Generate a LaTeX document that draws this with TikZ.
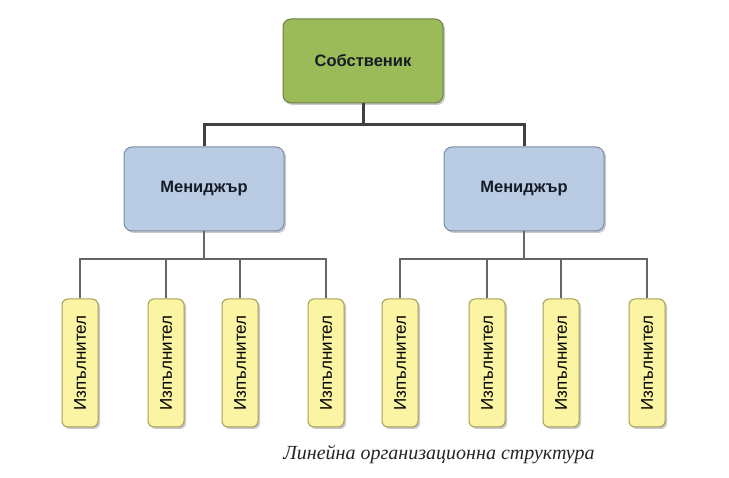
\documentclass[tikz,border=0pt]{standalone}
\usepackage{fontspec}
\setmainfont{Liberation Sans}
\newfontfamily\captionserif{Liberation Serif}
\usetikzlibrary{shadows}
\definecolor{ownerfill}{HTML}{9BBB59}
\definecolor{ownerdraw}{HTML}{6A7F45}
\definecolor{mgrfill}{HTML}{B9CCE4}
\definecolor{mgrdraw}{HTML}{7A8CA6}
\definecolor{workfill}{HTML}{FBF4A2}
\definecolor{workdraw}{HTML}{A89E55}
\definecolor{textdark}{HTML}{161C26}
\tikzset{
  boxshadow/.style={drop shadow={shadow xshift=2pt,shadow yshift=-2pt,opacity=0.35,fill=black!60}},
  bigbox/.style={rectangle,rounded corners=8pt,minimum width=160pt,minimum height=84pt,
    inner sep=0pt,line width=1pt,boxshadow,font=\bfseries\fontsize{16.5}{19}\selectfont,text=textdark},
  ownerbox/.style={bigbox,fill=ownerfill,draw=ownerdraw},
  mgrbox/.style={bigbox,fill=mgrfill,draw=mgrdraw},
  workbox/.style={rectangle,rounded corners=6pt,minimum width=128pt,minimum height=36pt,
    inner sep=0pt,line width=1pt,fill=workfill,draw=workdraw,rotate=90,boxshadow,
    font=\fontsize{17}{20}\selectfont,text=black},
  trunk/.style={draw=black!75,line width=3pt},
  branch/.style={draw=black!60,line width=1.2pt},
}
\begin{document}
\begin{tikzpicture}[x=1pt,y=-1pt]
\useasboundingbox (0,0) rectangle (729,478);
\fill[white] (0,0) rectangle (729,478);

% junction points of the connector bars
\coordinate (bar) at (363,125);
\coordinate (bl) at (204,259);
\coordinate (br) at (524,259);

% owner and managers
\node[ownerbox] (own) at (363,61) {Собственик};
\node[mgrbox] (m1) at (204,189) {Мениджър};
\node[mgrbox] (m2) at (524,189) {Мениджър};

% workers
\foreach \n/\x in {a1/80,a2/166,a3/240,a4/326,b1/400,b2/487,b3/561,b4/647}
  \node[workbox] (\n) at (\x,363) {Изпълнител};

% connectors
\draw[trunk] (own.south) -- (bar);
\draw[trunk] (m1.north) |- (bar) -| (m2.north);

\draw[branch] (m1.south) -- (bl);
\draw[branch] (a1.east) |- (bl) -| (a4.east);
\draw[branch] (a2.east) -- (a2.east |- bl);
\draw[branch] (a3.east) -- (a3.east |- bl);

\draw[branch] (m2.south) -- (br);
\draw[branch] (b1.east) |- (br) -| (b4.east);
\draw[branch] (b2.east) -- (b2.east |- br);
\draw[branch] (b3.east) -- (b3.east |- br);

\node[font=\captionserif\itshape\fontsize{20}{23}\selectfont,text=black!85] (cap) at (439,455) {Линейна организационна структура};
\end{tikzpicture}
\end{document}
